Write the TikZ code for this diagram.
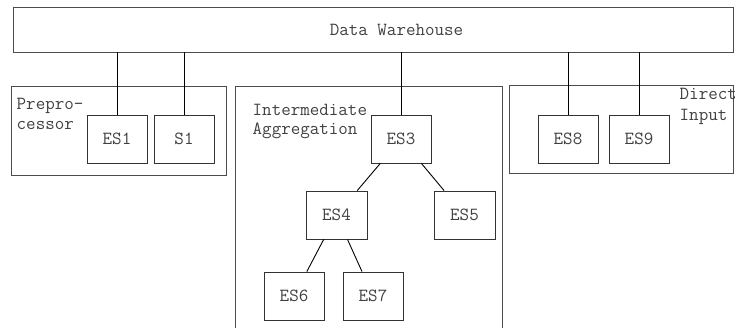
\documentclass[tikz,border=0pt]{standalone}
\usepackage{fontspec}
\begin{document}
\begin{tikzpicture}[x=1pt,y=-1pt,
  txtfont/.style={font=\ttfamily\fontsize{18.5}{20}\selectfont, text=black!75},
  box/.style={draw=black!80, line width=0.9pt, minimum width=60pt, minimum height=48pt, inner sep=0pt, txtfont},
  group/.style={draw=black!70, line width=0.9pt, inner sep=0pt},
  lbl/.style={inner sep=0pt, txtfont, anchor=base west},
  link/.style={line width=0.9pt, draw=black}]
\useasboundingbox (0,0) rectangle (735,327);
\clip (0,0) rectangle (735,327);
% container boxes
\node[group, minimum width=720pt, minimum height=45pt] (dw) at (373,29.5) {};
\node[inner sep=0pt, txtfont, anchor=base] (dwt) at (396.5,35.5) {Data Warehouse};
\node[group, minimum width=215pt, minimum height=89pt] (pre) at (118.5,130.5) {};
\node[group, minimum width=267pt, minimum height=254pt] (inter) at (368.5,213) {};
\node[group, minimum width=224pt, minimum height=88pt] (direct) at (621,129) {};
% group labels
\node[lbl] (pre1) at (16.5,109.5) {Prepro-};
\node[lbl] (pre2) at (16.5,129.5) {cessor};
\node[lbl] (int1) at (252.5,115) {Intermediate};
\node[lbl] (int2) at (252.5,134.5) {Aggregation};
\node[lbl] (dir1) at (679.5,99) {Direct};
\node[lbl] (dir2) at (679.5,120) {Input};
% small boxes
\node[box] (es1) at (117,139) {ES1};
\node[box] (s1) at (184,139) {S1};
\node[box] (es3) at (401,139) {ES3};
\node[box] (es8) at (568,139) {ES8};
\node[box] (es9) at (639,139) {ES9};
\node[box, minimum width=61pt] (es4) at (336.5,215) {ES4};
\node[box, minimum width=61pt] (es5) at (464.5,215) {ES5};
\node[box] (es6) at (294,296) {ES6};
\node[box] (es7) at (373,296) {ES7};
% links
\foreach \n in {es1,s1,es3,es8,es9}
  \draw[link] (\n.north) -- (\n.north |- dw.south);
\draw[link] (es3) -- (es4);
\draw[link] (es3) -- (es5);
\draw[link] (es4) -- (es6);
\draw[link] (es4) -- (es7);
\end{tikzpicture}
\end{document}
